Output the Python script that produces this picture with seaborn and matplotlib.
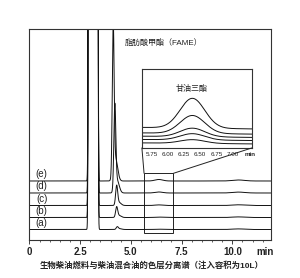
import numpy as np
import pandas as pd
import matplotlib
matplotlib.use('Agg')
import matplotlib.pyplot as plt
import seaborn as sns
from matplotlib.patches import Rectangle, ConnectionPatch
from matplotlib.ticker import MultipleLocator

# muestras (a)-(e), de abajo hacia arriba
muestras = ['(a)', '(b)', '(c)', '(d)', '(e)']
base_main = [10.5, 22.5, 34.5, 47.0, 59.0]      # linea base de cada traza

# pico del solvente (fuera de escala)
solv_t = 3.14
solv_sigma = 0.05
solv_h = 1e8

# pico FAME
fame_t = [4.33, 4.30, 4.30, 4.21, 4.13]
fame_h = [2.5, 10.0, 19.0, 84.0, 149.0]
fame_sigma = [0.05, 0.05, 0.05, 0.048, 0.045]
fame_cola = [0.8, 2.0, 3.0, 12.0, 22.0]          # cola a la derecha

# trigliceridos (zona del recuadro) y pico a 10.3 min
tg_t = 6.38
tg_sigma = 0.19
tg_main_h = [0.3, 0.4, 0.6, 1.0, 1.5]
p10_t = 10.3
p10_h = [0.6, 0.6, 0.7, 0.9, 1.0]

# inserto
base_ins_izq = [5.0, 8.4, 11.7, 15.0, 20.5]
base_ins_der = [4.0, 7.4, 10.5, 13.8, 19.0]
tg_ins_h = [3.7, 6.3, 8.6, 18.0, 29.8]

ticks_main = [0, 2.5, 5.0, 7.5, 10.0]
ticklabels_main = ['0', '2.5', '5.0', '7.5', '10.0']
ticks_ins = [5.75, 6.00, 6.25, 6.50, 6.75, 7.00]
ticklabels_ins = ['5.75', '6.00', '6.25', '6.50', '6.75', '7.00']

recuadro = (5.65, 7.1, 7.3, 66.7)   # x0, x1, y0, y1 en datos del eje principal


def gauss(t, c, s, h):
    return h * np.exp(-(t - c) ** 2 / (2 * s ** 2))


t = np.linspace(0, 11.9, 3000)
filas = []
for i, m in enumerate(muestras):
    y = (base_main[i]
         + gauss(t, solv_t, solv_sigma, solv_h)
         + gauss(t, fame_t[i], fame_sigma[i], fame_h[i])
         + gauss(t, fame_t[i] + 0.12, 0.1, fame_cola[i])
         + gauss(t, tg_t, tg_sigma, tg_main_h[i])
         + gauss(t, p10_t, 0.3, p10_h[i]))
    y = np.minimum(y, 400)
    filas.append(pd.DataFrame({'t': t, 'y': y, 'muestra': m}))
df = pd.concat(filas)

ti = np.linspace(5.6, 7.3, 600)
filas = []
for i, m in enumerate(muestras):
    base = np.interp(ti, [5.6, 7.3], [base_ins_izq[i], base_ins_der[i]])
    y = base + gauss(ti, tg_t, tg_sigma, tg_ins_h[i])
    filas.append(pd.DataFrame({'t': ti, 'y': y, 'muestra': m}))
df_ins = pd.concat(filas)

sns.set_theme(style='white')
plt.rcParams['font.family'] = ['Liberation Sans', 'Noto Sans CJK SC', 'DejaVu Sans']

fig = plt.figure(figsize=(3.0, 2.78), dpi=100)
ax = fig.add_axes([0.098, 0.1367, 0.805, 0.758])

sns.lineplot(data=df, x='t', y='y', units='muestra', estimator=None,
             color='#111111', linewidth=0.7, ax=ax, legend=False)
ax.set_xlim(0, 11.9)
ax.set_ylim(0, 210.7)
ax.set_xlabel('')
ax.set_ylabel('')
ax.set_yticks([])
ax.set_xticks(ticks_main)
ax.set_xticklabels(ticklabels_main, fontsize=7, fontweight='bold')
ax.xaxis.set_minor_locator(MultipleLocator(0.5))
ax.tick_params(axis='x', which='major', direction='out', length=3, width=0.6,
               pad=2, bottom=True, colors='#222222')
ax.tick_params(axis='x', which='minor', direction='out', length=1.6, width=0.5,
               bottom=True, colors='#222222')
for s in ax.spines.values():
    s.set_linewidth(0.8)
    s.set_color('#333333')
ax.annotate('min', xy=(11.6, 0), xycoords=('data', 'axes fraction'),
            xytext=(0, -5), textcoords='offset points', ha='center', va='top',
            fontsize=7, fontweight='bold', color='#222222')

for i, m in enumerate(muestras):
    ax.text(0.6, base_main[i] + 1.5, m, fontsize=7, ha='center', va='bottom',
            color='#222222')

ax.text(0.395, 0.936, '脂肪酸甲酯（FAME）', transform=ax.transAxes,
        fontsize=5.8, ha='left', va='center', color='#222222')

x0, x1, y0, y1 = recuadro
ax.add_patch(Rectangle((x0, y0), x1 - x0, y1 - y0, fill=False,
                       lw=0.7, ec='#222222'))

# inserto
axi = fig.add_axes([0.473, 0.468, 0.367, 0.284])
sns.lineplot(data=df_ins, x='t', y='y', units='muestra', estimator=None,
             color='#111111', linewidth=0.7, ax=axi, legend=False)
axi.set_xlim(5.6, 7.3)
axi.set_ylim(0, 79)
axi.set_xlabel('')
axi.set_ylabel('')
axi.set_yticks([])
axi.set_xticks(ticks_ins)
axi.set_xticklabels(ticklabels_ins, fontsize=4.5)
axi.tick_params(axis='x', length=0, pad=3, colors='#222222')
for s in axi.spines.values():
    s.set_linewidth(0.8)
    s.set_color('#333333')
axi.annotate('min', xy=(7.27, 0), xycoords=('data', 'axes fraction'),
             xytext=(0, -3), textcoords='offset points', ha='center', va='top',
             fontsize=4.5, fontweight='bold', color='#222222')
axi.text(0.455, 0.743, '甘油三酯', transform=axi.transAxes,
         fontsize=5.8, ha='center', va='center', color='#222222')

for xa, xi in [(x0, 0), (x1, 1)]:
    con = ConnectionPatch(xyA=(xa, y1), coordsA=ax.transData,
                          xyB=(xi, 0), coordsB=axi.transAxes,
                          lw=0.7, color='#222222')
    fig.add_artist(con)

fig.text(0.505, 0.047, '生物柴油燃料与柴油混合油的色层分离谱（注入容积为10L）',
         ha='center', va='center', fontsize=6, fontweight='bold', color='#222222')

fig.savefig('out.png', dpi=100)
